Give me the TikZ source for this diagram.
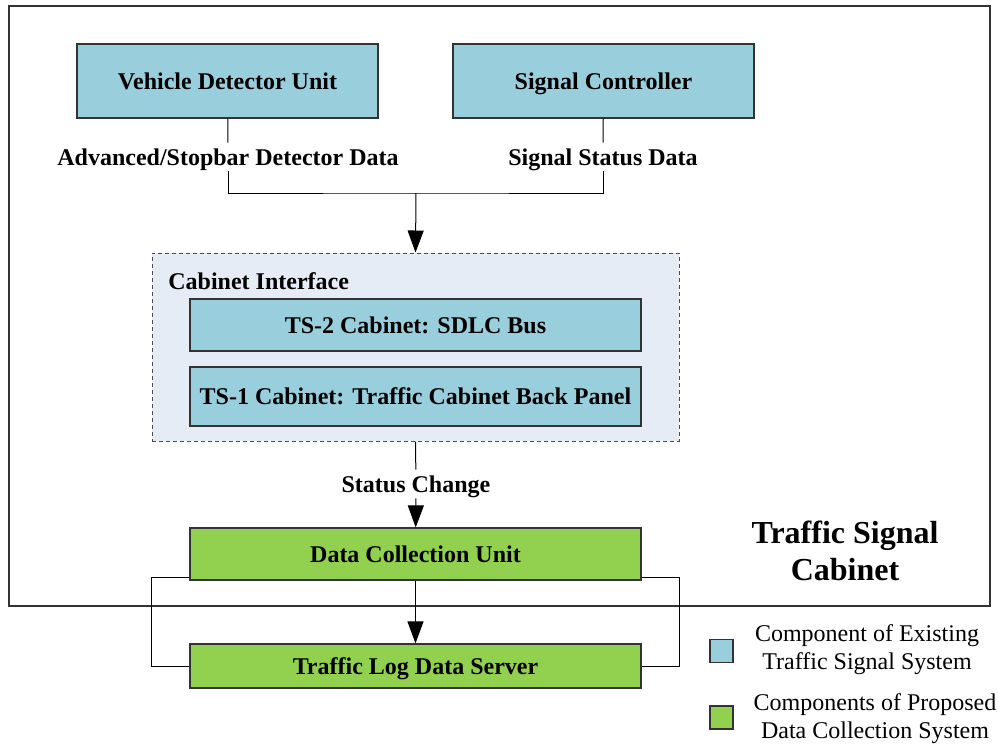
\documentclass[tikz,border=0pt]{standalone}
\usepackage{fontspec}
\setmainfont{Liberation Serif}
\usetikzlibrary{arrows.meta}
\definecolor{existblue}{HTML}{99CFDD}
\definecolor{propgreen}{HTML}{92D050}
\definecolor{cabfill}{HTML}{E6ECF6}

\tikzset{
  unit/.style={draw=black!80, line width=0.6pt, font=\fontsize{12}{14}\selectfont\bfseries, inner sep=0pt, text height=8pt, text depth=0pt},
  existing/.style={unit, fill=existblue},
  proposed/.style={unit, fill=propgreen},
  datalabel/.style={font=\fontsize{12}{14}\selectfont\bfseries, inner sep=3pt, text height=8pt, text depth=0pt},
  keytext/.style={font=\fontsize{12}{14}\selectfont, align=center},
  link/.style={line width=0.5pt},
  flow/.style={link, -{Triangle[length=11pt,width=8pt]}},
}

\begin{document}
\begin{tikzpicture}[x=0.5pt, y=-0.5pt]
		%%%%% START %%%%%
		\useasboundingbox (0,0) rectangle (998,746);
		\draw[line width=0.6pt, draw=black!80] (9,6) rectangle (990,606);
		
		\node[existing, minimum width=150.5pt, minimum height=37pt] (vdu) at (227.5,81) {Vehicle Detector Unit};
		\node[existing, minimum width=150.5pt, minimum height=37pt] (sc) at (603.5,81) {Signal Controller};
		\node[datalabel] (vdudata) at (228,157) {Advanced/Stopbar Detector Data};
		\node[datalabel] (scdata) at (603,157) {Signal Status Data};
		\coordinate (merge) at (416,193);
		\draw[link] (vdu) -- (vdudata);
		\draw[link] (sc) -- (scdata);
		\draw[link] (vdudata.south) |- (merge) -| (scdata.south);
		
		\node[draw=black!70, line width=0.5pt, dash pattern=on 2pt off 1.5pt, fill=cabfill, minimum width=263.5pt, minimum height=94pt, inner sep=0pt] (cab) at (415.5,347) {};
		\draw[flow] (merge) -- (cab.north);
		\node[datalabel, anchor=west, inner sep=0pt] (cabtitle) at (168,281) {Cabinet Interface};
		\node[existing, minimum width=225.5pt, minimum height=26pt] (ts2) at (415.5,325) {TS-2 Cabinet: SDLC Bus};
		\node[existing, minimum width=225.5pt, minimum height=29.5pt] (ts1) at (415.5,396.5) {TS-1 Cabinet: Traffic Cabinet Back Panel};
		
		\node[datalabel] (status) at (416,484) {Status Change};
		\draw[link] (cab.south) -- (status);
		
		\node[proposed, minimum width=225.5pt, minimum height=26pt] (dcu) at (415.5,554) {Data Collection Unit};
		\node[proposed, minimum width=225.5pt, minimum height=22pt] (tlds) at (415.5,666) {Traffic Log Data Server};
		\draw[flow] (status) -- (dcu);
		\draw[flow] (dcu) -- (tlds);
		\draw[link] ([yshift=1.5pt]dcu.south west) -- ++(-38,0) |- (tlds.west);
		\draw[link] ([yshift=1.5pt]dcu.south east) -- ++(38,0) |- (tlds.east);
		
		\node[font=\fontsize{16}{18.5}\selectfont\bfseries, align=center] (cabname) at (845,551) {Traffic Signal\\Cabinet};
		
		% key
		\node[existing, minimum size=11.5pt] (keyexist) at (721.5,651) {};
		\node[keytext] (keyexisttext) at (867,650) {Component of Existing\\Traffic Signal System};
		\node[proposed, minimum size=11.5pt] (keyprop) at (721.5,717.5) {};
		\node[keytext] (keyproptext) at (875,719) {Components of Proposed\\Data Collection System};
		%%%%% END %%%%%
	\end{tikzpicture}
\end{document}
